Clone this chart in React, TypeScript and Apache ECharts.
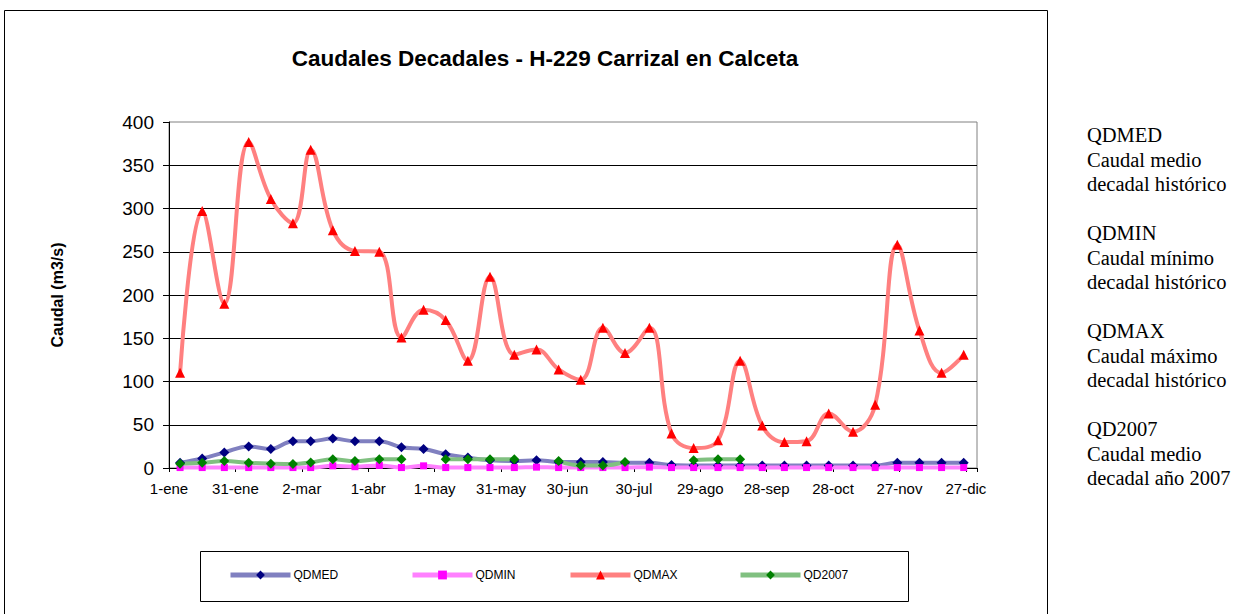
import React, { useEffect, useRef } from "react";
import * as echarts from "echarts";

// Day-of-year offsets (0 = 1-ene) of each decade's plotted date (6th, 16th, 26th of each month)
const decadeDays = [
  5, 15, 25, 36, 46, 56, 64, 74, 84, 95, 105, 115, 125, 135, 145, 156, 166, 176,
  186, 196, 206, 217, 227, 237, 248, 258, 268, 278, 288, 298, 309, 319, 329, 339, 349, 359,
];

// Tick labels every 30 days starting at 1-ene
const xTickLabels = [
  "1-ene", "31-ene", "2-mar", "1-abr", "1-may", "31-may", "30-jun",
  "30-jul", "29-ago", "28-sep", "28-oct", "27-nov", "27-dic",
];

const qdmed = [
  6, 11, 18, 25, 22, 31, 31, 34, 31, 31, 24, 22, 16, 12, 9, 8, 9, 7,
  7, 7, 6, 6, 3.5, 3, 3, 3, 3, 3, 3, 3, 3, 3, 6, 6, 6, 6,
];
const qdmin = [
  0.5, 0.5, 0.5, 0.5, 0.5, 0.5, 0.5, 2.5, 1.5, 3, 0.5, 2.5, 0.5, 0.5, 0.5, 0.5, 1, 0.5,
  0.5, 0.5, 0.5, 1, 0.5, 0.5, 0.5, 0.5, 0.5, 0.5, 0.5, 0.5, 0.5, 0.5, 0.5, 0.5, 0.5, 0.5,
];
const qdmax = [
  110, 297, 190, 377, 311, 283, 368, 275, 251, 250, 151, 183, 171, 124, 221, 131, 137, 114,
  102, 162, 133, 162, 40, 23, 32, 124, 49, 30, 31, 63, 42, 73, 258, 159, 110, 131,
];
const qd2007: (number | null)[] = [
  5, 6, 8, 6, 5, 4.5, 6.5, 10, 8, 10, 10, null, 10, 10, 10, 10, null, 8,
  3, 3, 7, null, null, 9, 10, 10, null, null, null, null, null, null, null, null, null, null,
];

const seriesNames = ["QDMED", "QDMIN", "QDMAX", "QD2007"];
const noteBlocks = [
  ["QDMED", "Caudal medio", "decadal histórico"],
  ["QDMIN", "Caudal mínimo", "decadal histórico"],
  ["QDMAX", "Caudal máximo", "decadal histórico"],
  ["QD2007", "Caudal medio", "decadal año 2007"],
];
const titleText = "Caudales Decadales - H-229 Carrizal en Calceta";
const yAxisName = "Caudal (m3/s)";

const SANS = 'Arial, "Liberation Sans", sans-serif';
const SERIF = '"Times New Roman", "Liberation Serif", serif';

export default function App() {
  const ref = useRef<HTMLDivElement>(null);
  useEffect(() => {
    const chart = echarts.init(ref.current!, null, { renderer: "svg" });
    const pairs = (vals: (number | null)[]) =>
      decadeDays.map((d, i) => [d, vals[i] === null ? "-" : vals[i]]);

    const styles = [
      { symbol: "diamond", size: 10, mark: "#000080", line: "#8080c0" },
      { symbol: "rect", size: 7, mark: "#ff00ff", line: "#ff80ff" },
      { symbol: "triangle", size: 10, mark: "#ff0000", line: "#ff8080" },
      { symbol: "diamond", size: 10, mark: "#008000", line: "#80c080" },
    ];
    const data = [qdmed, qdmin, qdmax, qd2007];
    const legendLefts = [228, 410, 568, 738];

    chart.setOption({
      animation: false,
      backgroundColor: "#ffffff",
      grid: {
        left: 169,
        top: 122,
        width: 808,
        height: 346,
        show: true,
        borderColor: "#808080",
        borderWidth: 1,
        backgroundColor: "transparent",
      },
      xAxis: {
        type: "value",
        min: 0,
        max: 365,
        interval: 30,
        axisLine: { show: true, lineStyle: { color: "#000", width: 1 } },
        axisTick: { show: true, length: 4, lineStyle: { color: "#000" } },
        splitLine: { show: false },
        axisLabel: {
          margin: 13,
          fontSize: 15,
          fontFamily: SANS,
          color: "#000",
          formatter: (v: number) => {
            const k = Math.round(v / 30);
            return v % 30 === 0 && k < xTickLabels.length ? xTickLabels[k] : "";
          },
        },
      },
      yAxis: {
        type: "value",
        min: 0,
        max: 400,
        interval: 50,
        name: yAxisName,
        nameLocation: "middle",
        nameGap: 104,
        nameRotate: 90,
        nameTextStyle: { fontSize: 16, fontWeight: "bold", fontFamily: SANS, color: "#000" },
        axisLine: { show: true, lineStyle: { color: "#000", width: 1 } },
        axisTick: { show: true, length: 6, lineStyle: { color: "#000" } },
        splitLine: { show: true, showMaxLine: false, lineStyle: { color: "#000", width: 1 } },
        axisLabel: { margin: 15, fontSize: 19, fontFamily: SANS, color: "#000" },
      },
      legend: seriesNames.map((n, i) => ({
        data: [n],
        left: legendLefts[i],
        top: 569,
        padding: 0,
        itemWidth: 60,
        itemHeight: 11,
        itemGap: 0,
        lineStyle: { width: 5 },
        textStyle: { fontSize: 12, fontFamily: SANS, color: "#000", padding: [0, 0, 0, -2] },
        selectedMode: false,
      })),
      graphic: [
        {
          type: "rect",
          silent: true,
          shape: { x: 4.5, y: 10.5, width: 1043, height: 640 },
          style: { fill: "none", stroke: "#000", lineWidth: 1 },
        },
        {
          type: "rect",
          silent: true,
          shape: { x: 200.5, y: 551.5, width: 708, height: 50 },
          style: { fill: "none", stroke: "#000", lineWidth: 1 },
        },
        {
          type: "text",
          silent: true,
          x: 545,
          y: 58,
          style: {
            text: titleText,
            fontSize: 22.5,
            fontWeight: "bold",
            fontFamily: SANS,
            fill: "#000",
            align: "center",
            verticalAlign: "middle",
          },
        },
        ...noteBlocks.map((lines, i) => ({
          type: "text",
          silent: true,
          x: 1087,
          y: 123 + i * 98,
          style: {
            text: lines.join("\n"),
            fontSize: 20.5,
            lineHeight: 24.5,
            fontFamily: SERIF,
            fill: "#000",
            align: "left",
            verticalAlign: "top",
          },
        })),
      ],
      series: seriesNames.map((n, i) => ({
        name: n,
        type: "line",
        data: pairs(data[i]),
        smooth: 0.4,
        connectNulls: false,
        symbol: styles[i].symbol,
        symbolSize: styles[i].size,
        showSymbol: true,
        itemStyle: { color: styles[i].mark },
        lineStyle: { color: styles[i].line, width: 4 },
        emphasis: { disabled: true },
      })),
    });
    return () => chart.dispose();
  }, []);
  return (
    <div
      ref={ref}
      style={{ position: "absolute", left: 0, top: 0, width: 1251, height: 614, background: "#fff" }}
    />
  );
}
